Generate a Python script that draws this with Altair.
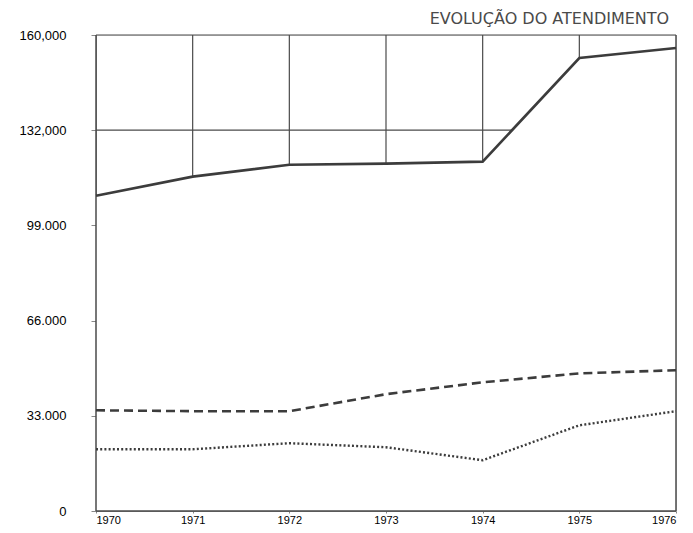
import altair as alt
import pandas as pd

# ---- data ----
years = [1970, 1971, 1972, 1973, 1974, 1975, 1976]
serie_continua = [109300, 115900, 120000, 120400, 121100, 157000, 160500]
serie_tracejada = [34900, 34600, 34600, 40500, 44600, 47700, 48800]
serie_pontilhada = [21400, 21400, 23500, 22100, 17600, 29700, 34600]

y_ticks = [0, 33000, 66000, 99000, 132000, 165000]
y_tick_labels = ["0", "33.000", "66.000", "99.000", "132,000", "160,000"]
titulo = "EVOLUÇÃO  DO ATENDIMENTO"

grid_years = [1971, 1972, 1973, 1974, 1975]
frame_years = [1970, 1976]
h_lines = [132000, 165000]
base_line = [0]

df = pd.DataFrame({
    "ano": years,
    "continua": serie_continua,
    "tracejada": serie_tracejada,
    "pontilhada": serie_pontilhada,
})
df_vgrid = pd.DataFrame({"ano": grid_years})
df_frame = pd.DataFrame({"ano": frame_years})
df_hgrid = pd.DataFrame({"v": h_lines})
df_base = pd.DataFrame({"v": base_line})

label_expr = " : ".join(
    f"datum.value == {v} ? '{l}'" for v, l in zip(y_ticks, y_tick_labels)
) + " : ''"

ink = "#4a4a4a"

x_scale = alt.Scale(domain=[years[0], years[-1]], nice=False, zero=False)
y_scale = alt.Scale(domain=[y_ticks[0], y_ticks[-1]], nice=False)

x_axis = alt.Axis(
    values=years, format="d", title=None, tickSize=2, labelPadding=1,
    labelFlush=True, labelFontSize=11, grid=False,
)
y_axis = alt.Axis(
    values=y_ticks, labelExpr=label_expr, title=None, tickSize=5, labelPadding=25,
    labelFontSize=13, grid=False,
)

X = alt.X("ano:Q", scale=x_scale, axis=x_axis)

vgrid = alt.Chart(df_vgrid).mark_rule(color=ink, strokeWidth=1.2).encode(
    x=alt.X("ano:Q", scale=x_scale, axis=x_axis)
)
hgrid = alt.Chart(df_hgrid).mark_rule(color=ink, strokeWidth=1.2).encode(
    y=alt.Y("v:Q", scale=y_scale, axis=y_axis)
)
mask = alt.Chart(df).mark_area(color="white", opacity=1).encode(
    x=X, y=alt.Y("continua:Q", scale=y_scale, axis=y_axis)
)
frame = alt.Chart(df_frame).mark_rule(color=ink, strokeWidth=1.5).encode(
    x=alt.X("ano:Q", scale=x_scale, axis=x_axis)
)
base = alt.Chart(df_base).mark_rule(color=ink, strokeWidth=1.5).encode(
    y=alt.Y("v:Q", scale=y_scale, axis=y_axis)
)
l1 = alt.Chart(df).mark_line(color="#3c3c3c", strokeWidth=2.6).encode(
    x=X, y=alt.Y("continua:Q", scale=y_scale, axis=y_axis)
)
l2 = alt.Chart(df).mark_line(color="#3c3c3c", strokeWidth=2.6, strokeDash=[9, 5]).encode(
    x=X, y=alt.Y("tracejada:Q", scale=y_scale, axis=y_axis)
)
l3 = alt.Chart(df).mark_line(color="#3c3c3c", strokeWidth=2.4, strokeDash=[2, 2.2]).encode(
    x=X, y=alt.Y("pontilhada:Q", scale=y_scale, axis=y_axis)
)

chart = alt.layer(vgrid, hgrid, mask, frame, base, l1, l2, l3).properties(
    width=580,
    height=476,
    autosize=alt.AutoSizeParams(type="none"),
    padding={"left": 88, "top": 27, "right": 9, "bottom": 13},
    title=alt.TitleParams(
        titulo, anchor="end", fontSize=16, font="DejaVu Sans", fontWeight="normal",
        color=ink, offset=2, dx=-12,
    ),
).configure_view(stroke=None).configure_axis(
    domainColor=ink, domainWidth=1.5, tickColor=ink, tickWidth=1.2,
    labelColor=ink, labelFont="DejaVu Sans", grid=False,
).configure(background="white")

chart.save("out.html", embed_options={"renderer": "svg", "actions": False})
